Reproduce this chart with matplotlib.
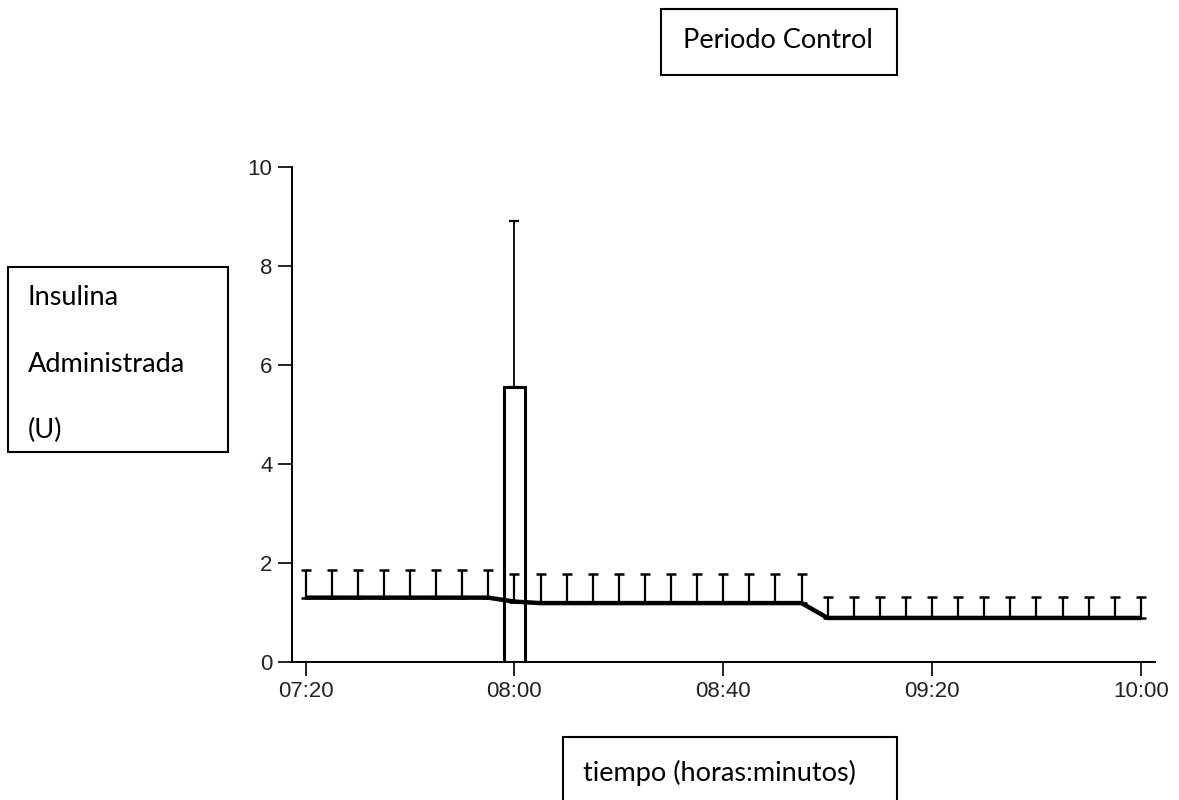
import matplotlib
matplotlib.use("Agg")
import matplotlib.pyplot as plt
from matplotlib.patches import Rectangle

# minutos desde las 07:20, cada 5 min
tiempo = [0, 5, 10, 15, 20, 25, 30, 35, 40, 45, 50, 55, 60, 65, 70, 75, 80,
          85, 90, 95, 100, 105, 110, 115, 120, 125, 130, 135, 140, 145, 150, 155, 160]
insulina = [1.30, 1.30, 1.30, 1.30, 1.30, 1.30, 1.30, 1.30, 1.22,
            1.19, 1.19, 1.19, 1.19, 1.19, 1.19, 1.19, 1.19, 1.19, 1.19, 1.19,
            0.89, 0.89, 0.89, 0.89, 0.89, 0.89, 0.89, 0.89, 0.89, 0.89, 0.89, 0.89, 0.89]
desvio = [0.56, 0.56, 0.56, 0.56, 0.56, 0.56, 0.56, 0.56, 0.56,
          0.59, 0.59, 0.59, 0.59, 0.59, 0.59, 0.59, 0.59, 0.59, 0.59, 0.59,
          0.42, 0.42, 0.42, 0.42, 0.42, 0.42, 0.42, 0.42, 0.42, 0.42, 0.42, 0.42, 0.42]

# bolo de las 08:00
bolo_t = [40]
bolo_valor = [5.56]
bolo_desvio = [3.34]

xticks = [0, 40, 80, 120, 160]
xlabels = ["07:20", "08:00", "08:40", "09:20", "10:00"]
yticks = [0, 2, 4, 6, 8, 10]

W, H = 1179, 800
fig = plt.figure(figsize=(W / 100, H / 100), dpi=100)
ax = fig.add_axes([292 / W, 1 - 662 / H, (1155 - 292) / W, (662 - 167) / H])

ax.bar(bolo_t, bolo_valor, width=4, facecolor="none", edgecolor="black", linewidth=2.2, zorder=3)
ax.errorbar(bolo_t, bolo_valor, yerr=[[0], bolo_desvio], fmt="none",
            ecolor="black", elinewidth=1.3, capsize=3.5, capthick=1.6, zorder=3)

ax.errorbar(tiempo, insulina, yerr=[[0] * len(desvio), desvio], fmt="none",
            ecolor="black", elinewidth=1.6, capsize=3.5, capthick=1.8, zorder=2)
ax.plot(tiempo, insulina, color="black", linewidth=3.2, zorder=4, solid_capstyle="butt")

ax.set_xlim(-2.6, 162.7)
ax.set_ylim(0, 10)
ax.set_xticks(xticks)
ax.set_xticklabels(xlabels)
ax.set_yticks(yticks)
for s in ["top", "right"]:
    ax.spines[s].set_visible(False)
for s in ["left", "bottom"]:
    ax.spines[s].set_linewidth(1.4)
ax.tick_params(length=10, width=1.4, labelsize=16, colors="#222222", pad=4)
for lab in ax.get_xticklabels() + ax.get_yticklabels():
    lab.set_fontfamily("Liberation Sans")


def caja(x0, y0, x1, y1):
    fig.add_artist(Rectangle((x0 / W, 1 - y1 / H), (x1 - x0) / W, (y1 - y0) / H,
                             transform=fig.transFigure, fill=False,
                             edgecolor="black", linewidth=1.5))


fuente = "Lato"
tam = 19.5
caja(661, 9, 897, 75)
fig.text(683 / W, 1 - 41 / H, "Periodo Control", fontsize=tam, family=fuente, va="center")

caja(8, 267, 228, 452)
fig.text(28 / W, 1 - 297 / H, "Insulina", fontsize=tam, family=fuente, va="center")
fig.text(28 / W, 1 - 364 / H, "Administrada", fontsize=tam, family=fuente, va="center")
fig.text(28 / W, 1 - 430 / H, "(U)", fontsize=tam, family=fuente, va="center")

caja(563, 737, 897, 815)
fig.text(583 / W, 1 - 773 / H, "tiempo (horas:minutos)", fontsize=tam, family=fuente, va="center")

fig.savefig("out.png", dpi=100)
